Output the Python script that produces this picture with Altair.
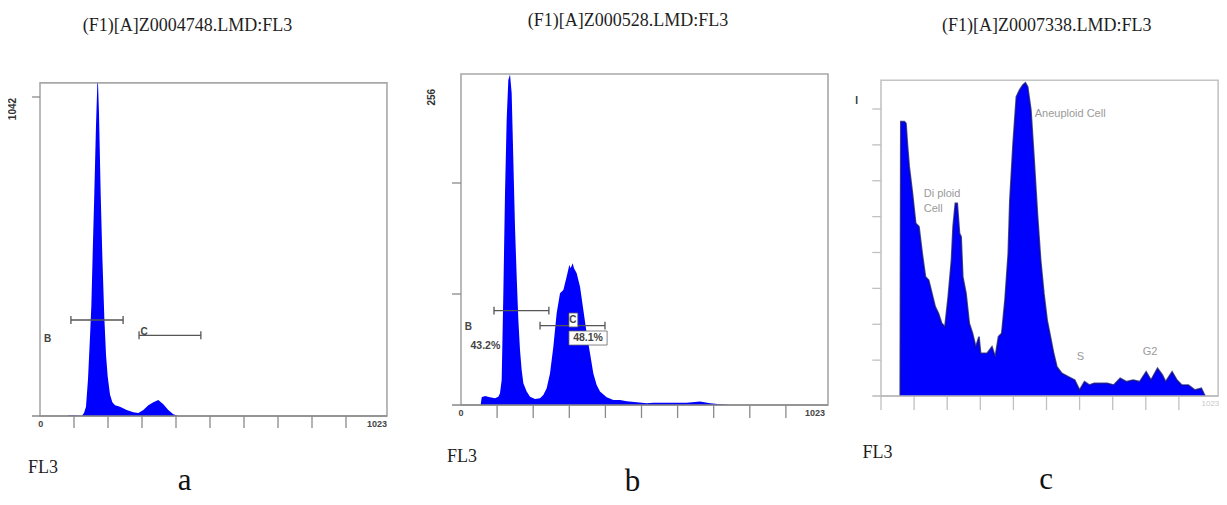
import altair as alt
import pandas as pd

# ---------------- data (FL3 channel value, event count) ----------------
a_fl3 = [85.0, 100.0, 120.0, 125.4, 132.4, 138.4, 144.4, 150.5, 154.5, 158.5, 163.5, 168.5, 172.5,
         174.5, 177.5, 182.5, 187.6, 193.6, 198.6, 203.6, 210.6, 217.7, 225.7, 240.7, 260.8, 280.8,
         295.9, 310.9, 326.0, 341.0, 356.0, 371.0, 386.0, 401.0, 416.0]
a_count = [2, 2, 1, 0, 10, 30, 120, 260, 360, 530, 730, 950, 1085,
           1088, 990, 730, 520, 320, 200, 130, 70, 45, 35, 30, 20, 12,
           10, 20, 35, 45, 52, 38, 20, 6, 0]

b_fl3 = [55.7, 58.6, 68.0, 82.2, 96.4, 105.8, 110.5, 115.3, 120.0, 124.7, 129.4, 134.1, 138.9,
         143.6, 148.3, 153.0, 157.8, 162.5, 167.2, 171.9, 176.7, 186.1, 195.6, 209.7, 223.9, 233.3,
         242.8, 252.2, 261.7, 271.1, 280.6, 290.0, 299.5, 307.0, 310.8, 316.5, 320.3, 327.8, 337.3,
         346.7, 356.1, 365.6, 375.0, 384.5, 393.9, 412.8, 431.7, 450.6, 469.5, 497.9, 526.2, 545.1,
         592.3, 639.6, 677.4, 705.7, 734.0, 762.4]
b_count = [0, 5.9, 6.9, 5.9, 5.1, 6.4, 9.0, 19.2, 85.9, 162.7, 219.1, 249.9, 254.0,
           239.6, 188.3, 137.1, 98.7, 65.3, 42.3, 26.9, 16.7, 10.3, 6.4, 4.6, 5.1, 7.7,
           12.8, 24.3, 44.8, 70.5, 85.9, 88.4, 98.7, 107.6, 105.1, 108.9, 105.1, 101.2, 91.0,
           73.0, 55.1, 39.7, 24.3, 15.4, 10.3, 5.9, 3.8, 3.8, 2.8, 2.1, 1.3, 1.8,
           1.8, 1.8, 2.6, 1.3, 0.5, 0]

c_fl3 = [59.2, 61.2, 72.2, 77.2, 82.2, 87.3, 97.3, 107.3, 117.4, 127.4, 137.4, 147.4, 157.5,
         167.5, 177.5, 187.6, 197.6, 207.6, 217.7, 222.7, 229.7, 235.7, 242.7, 247.7, 252.8, 262.8,
         272.8, 282.8, 292.9, 302.9, 307.9, 318.0, 328.0, 343.0, 353.1, 363.1, 373.1, 383.1, 393.2,
         398.2, 408.2, 418.3, 428.3, 438.3, 446.3, 453.4, 463.4, 473.4, 483.4, 493.5, 503.5, 513.5,
         523.6, 533.6, 543.6, 558.7, 578.7, 598.8, 613.8, 628.9, 643.9, 658.9, 679.0, 699.1, 719.1,
         739.2, 759.3, 779.3, 799.4, 819.5, 834.5, 854.6, 869.6, 879.6, 899.7, 914.7, 929.8, 949.8,
         969.9, 990.0, 1000.0, 1002.0]
c_count = [0, 305.9, 305.9, 304.0, 278.0, 255.7, 226.0, 192.5, 188.8, 159.0, 133.0, 129.3, 114.4,
           99.6, 92.2, 81.0, 77.3, 110.7, 151.6, 188.8, 214.8, 214.8, 181.3, 177.6, 133.0, 114.4,
           81.0, 69.9, 55.0, 66.2, 47.6, 47.6, 47.6, 55.0, 43.9, 66.2, 69.9, 107.0, 159.0,
           218.5, 281.7, 333.7, 341.2, 346.7, 349.3, 344.9, 318.9, 263.2, 203.7, 151.6, 114.4, 84.7,
           66.2, 47.6, 32.7, 25.3, 21.6, 17.8, 6.7, 16.0, 12.3, 14.1, 14.1, 14.1, 12.3,
           19.7, 16.0, 17.8, 16.0, 27.1, 17.8, 30.9, 23.4, 16.0, 27.1, 17.8, 12.3, 12.3,
           6.7, 8.6, 1.1, 0]

titles = ["(F1)[A]Z0004748.LMD:FL3", "(F1)[A]Z000528.LMD:FL3", "(F1)[A]Z0007338.LMD:FL3"]
panel_letters = ["a", "b", "c"]
x_label = "FL3"
y_max_labels = ["1042", "256"]
x_tick_values = [0, 102.3, 204.6, 306.9, 409.2, 511.5, 613.8, 716.1, 818.4, 920.7]
b_y_ticks = [85.33, 170.67]
c_y_ticks = [40, 80, 120, 160, 200, 240, 280, 320]

# gates: (name, start, end, level)
a_gates = [("B", 93, 250, 313.5), ("C", 298, 484, 263.6)]
b_gates = [("B", 93.5, 249, 72.5), ("C", 224, 408, 61)]
b_pct = ["43.2%", "48.1%"]
c_regions = ["Di ploid", "Cell", "Aneuploid Cell", "S", "G2"]

# ---------------- scales ----------------
XR = {"a": [32, 372], "b": [453, 814], "c": [873, 1204]}
YR = {"a": [408, 89], "b": [397, 64], "c": [388, 101]}
YD = {"a": [0, 1042], "b": [0, 256], "c": [0, 320]}
FRAME = {"a": (1044, 1088), "b": (1040, 254.5), "c": (1042, 352)}
TICKLEN = {"a": -39, "b": -10, "c": -15.6}
YTICKX = {"a": -24, "b": -25.5, "c": -27}


def X(p, f="x"):
    return alt.X(f"{f}:Q", scale=alt.Scale(domain=[0, 1023], range=XR[p], nice=False, zero=False), axis=None)


def Y(p, f="y"):
    return alt.Y(f"{f}:Q", scale=alt.Scale(domain=YD[p], range=YR[p], nice=False, zero=False), axis=None)


def rules(p, df, color, width, opacity=1.0):
    return alt.Chart(df).mark_rule(color=color, strokeWidth=width, opacity=opacity).encode(
        x=X(p), x2="x2:Q", y=Y(p), y2="y2:Q")


def texts(p, df, **kw):
    return alt.Chart(df).mark_text(**kw).encode(x=X(p), y=Y(p), text="t:N")


SERIF = "Liberation Serif"
SANS = "Liberation Sans"
layers = []

for i, p in enumerate(["a", "b", "c"]):
    fx, fy = FRAME[p]
    hist = {"a": (a_fl3, a_count), "b": (b_fl3, b_count), "c": (c_fl3, c_count)}[p]
    hdf = pd.DataFrame({"x": hist[0], "y": hist[1], "y0": [0] * len(hist[0])})
    frame_col = "#a8a8a8" if p != "c" else "#c4c4c4"
    # frame
    layers.append(alt.Chart(pd.DataFrame({"x": [0], "x2": [fx], "y": [0], "y2": [fy]}))
                  .mark_rect(filled=False, stroke=frame_col, strokeWidth=1.6)
                  .encode(x=X(p), x2="x2:Q", y=Y(p), y2="y2:Q"))
    # histogram
    layers.append(alt.Chart(hdf).mark_area(color="#0000ff", interpolate="linear", opacity=1)
                  .encode(x=X(p), y=Y(p), y2="y0:Q"))
    if p == "c":
        layers.append(alt.Chart(hdf).mark_line(color="#10107a", strokeWidth=1.6, opacity=0.75)
                      .encode(x=X(p), y=Y(p)))
    # axis base line and ticks
    tick_col = "#8a8a8a" if p != "c" else "#c0c0c0"
    xt = x_tick_values[1:] if p != "c" else x_tick_values
    xtick_df = pd.DataFrame({"x": xt, "x2": xt, "y": [0] * len(xt), "y2": [TICKLEN[p]] * len(xt)})
    layers.append(rules(p, xtick_df, tick_col, 1.3))
    base_df = pd.DataFrame({"x": [YTICKX[p]], "x2": [fx], "y": [0], "y2": [0]})
    layers.append(rules(p, base_df, "#888888" if p != "c" else "#b8b8b8", 1.6))
    yt = {"a": [1042], "b": b_y_ticks, "c": c_y_ticks}[p]
    ytick_df = pd.DataFrame({"x": [YTICKX[p]] * len(yt), "x2": [0] * len(yt), "y": yt, "y2": yt})
    layers.append(rules(p, ytick_df, tick_col, 1.3))

# ---------------- titles, FL3 labels, panel letters ----------------
title_pos = {"a": (444, 1257), "b": (473, 291), "c": (512, 407)}
fl3_pos = {"a": (-36, -186), "b": (-40, -43.8), "c": (-57, -69)}
letter_pos = {"a": (435, -243), "b": (486, -66), "c": (510, -104)}
for i, p in enumerate(["a", "b", "c"]):
    tx, ty = title_pos[p]
    layers.append(texts(p, pd.DataFrame({"x": [tx], "y": [ty], "t": [titles[i]]}),
                        font=SERIF, fontSize=18, color="#1e1e1e", align="center", baseline="alphabetic"))
    fx_, fy_ = fl3_pos[p]
    layers.append(texts(p, pd.DataFrame({"x": [fx_], "y": [fy_], "t": [x_label]}),
                        font=SERIF, fontSize=18, color="#1e1e1e", align="left", baseline="alphabetic"))
    lx, ly = letter_pos[p]
    layers.append(texts(p, pd.DataFrame({"x": [lx], "y": [ly], "t": [panel_letters[i]]}),
                        font=SERIF, fontSize=31, color="#111111", align="center", baseline="alphabetic"))

# ---------------- axis labels ----------------
layers.append(texts("a", pd.DataFrame({"x": [-81], "y": [1039], "t": [y_max_labels[0]]}),
                    font=SANS, fontSize=10, fontWeight="bold", color="#333333", angle=270,
                    align="right", baseline="middle"))
layers.append(texts("b", pd.DataFrame({"x": [-81], "y": [243], "t": [y_max_labels[1]]}),
                    font=SANS, fontSize=10, fontWeight="bold", color="#333333", angle=270,
                    align="right", baseline="middle"))
layers.append(texts("a", pd.DataFrame({"x": [2, 1014], "y": [-26, -26], "t": ["0", "1023"]}),
                    font=SANS, fontSize=9, fontWeight="bold", color="#444444", baseline="middle"))
layers.append(texts("b", pd.DataFrame({"x": [0, 1003], "y": [-6.2, -6.2], "t": ["0", "1023"]}),
                    font=SANS, fontSize=9, fontWeight="bold", color="#444444", baseline="middle"))
layers.append(texts("c", pd.DataFrame({"x": [-75], "y": [329], "t": ["I"]}),
                    font=SANS, fontSize=10, fontWeight="bold", color="#333333", baseline="middle"))
layers.append(texts("c", pd.DataFrame({"x": [1018], "y": [-9], "t": ["1023"]}),
                    font=SANS, fontSize=8, color="#c8c8c8", baseline="middle"))

# ---------------- gates ----------------
for p, gates, cap in [("a", a_gates, 13), ("b", b_gates, 3)]:
    xs, x2s, ys, y2s = [], [], [], []
    for name, s, e, lvl in gates:
        xs += [s, s, e]
        x2s += [e, s, e]
        ys += [lvl, lvl - cap, lvl - cap]
        y2s += [lvl, lvl + cap, lvl + cap]
    layers.append(rules(p, pd.DataFrame({"x": xs, "x2": x2s, "y": ys, "y2": y2s}), "#555555", 1.3))

layers.append(texts("a", pd.DataFrame({"x": [22.6, 313], "y": [251, 276], "t": ["B", "C"]}),
                    font=SANS, fontSize=10, fontWeight="bold", color="#444444", baseline="middle"))

# panel b label boxes
layers.append(alt.Chart(pd.DataFrame({"x": [306, 306], "x2": [331, 414], "y": [60, 46.1], "y2": [70.7, 56.9]}))
              .mark_rect(fill="white", stroke="#666666", strokeWidth=0.8)
              .encode(x=X("b"), x2="x2:Q", y=Y("b"), y2="y2:Q"))
layers.append(texts("b", pd.DataFrame({"x": [21, 317], "y": [59.6, 65.3], "t": ["B", "C"]}),
                    font=SANS, fontSize=10, fontWeight="bold", color="#444444", baseline="middle"))
layers.append(texts("b", pd.DataFrame({"x": [69, 360], "y": [45.4, 51.5], "t": b_pct}),
                    font=SANS, fontSize=10.5, fontWeight="bold", color="#444444", baseline="middle"))

# panel c region labels
layers.append(texts("c", pd.DataFrame({"x": [132, 132, 475, 605, 809],
                                       "y": [222, 205, 311, 40, 45.7], "t": c_regions}),
                    font=SANS, fontSize=11, color="#9a9a9a", align="left", baseline="alphabetic"))

chart = alt.layer(*layers).resolve_scale(x="independent", y="independent").properties(
    width=1211, height=489, padding=0, background="white",
    autosize=alt.AutoSizeParams(type="none")
).configure_view(stroke="transparent", strokeWidth=0)

chart.save("out.html", embed_options={"renderer": "svg", "actions": False})
